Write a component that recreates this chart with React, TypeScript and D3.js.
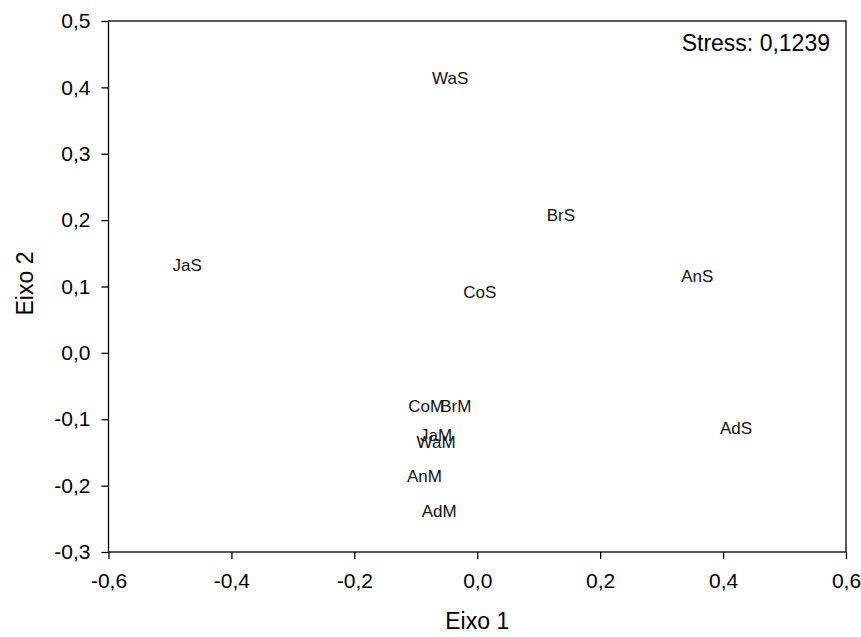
import React, { useEffect, useRef } from "react";
import * as d3 from "d3";

// NMDS site scores (Eixo 1, Eixo 2)
const labels = ["WaS", "BrS", "JaS", "AnS", "CoS", "AdS", "CoM", "BrM", "JaM", "WaM", "AnM", "AdM"];
const eixo1 = [-0.044, 0.136, -0.472, 0.358, 0.004, 0.421, -0.083, -0.035, -0.067, -0.067, -0.086, -0.062];
const eixo2 = [0.414, 0.208, 0.132, 0.116, 0.092, -0.113, -0.08, -0.08, -0.124, -0.134, -0.185, -0.238];
const xTicks = [-0.6, -0.4, -0.2, 0.0, 0.2, 0.4, 0.6];
const yTicks = [-0.3, -0.2, -0.1, 0.0, 0.1, 0.2, 0.3, 0.4, 0.5];
const stress = "Stress: 0,1239";

const W = 861;
const H = 637;
const margin = { top: 21, right: 15, bottom: 85, left: 108.5 };
const font = "Arial, 'Liberation Sans', sans-serif";

const fmt = (v: number) => d3.format(".1f")(v).replace(".", ",").replace("−", "-");

export default function App() {
  const ref = useRef<SVGSVGElement>(null);

  useEffect(() => {
    const svg = d3.select(ref.current);
    svg.selectAll("*").remove();

    const x = d3.scaleLinear().domain([-0.6, 0.6]).range([margin.left, W - margin.right]);
    const y = d3.scaleLinear().domain([-0.3, 0.5]).range([H - margin.bottom, margin.top]);

    // frame
    svg
      .append("rect")
      .attr("x", x(-0.6))
      .attr("y", y(0.5))
      .attr("width", x(0.6) - x(-0.6))
      .attr("height", y(-0.3) - y(0.5))
      .attr("fill", "none")
      .attr("stroke", "#000")
      .attr("stroke-width", 1.3);

    // x axis
    const gx = svg
      .append("g")
      .attr("transform", `translate(0,${y(-0.3)})`)
      .call(d3.axisBottom(x).tickValues(xTicks).tickFormat((d) => fmt(+d)).tickSize(7).tickPadding(14));
    gx.select(".domain").remove();
    gx.selectAll("line").attr("stroke", "#000").attr("stroke-width", 1.3);
    gx.selectAll("text").attr("font-family", font).attr("font-size", 21).attr("fill", "#000");

    // y axis
    const gy = svg
      .append("g")
      .attr("transform", `translate(${x(-0.6)},0)`)
      .call(d3.axisLeft(y).tickValues(yTicks).tickFormat((d) => fmt(+d)).tickSize(7).tickPadding(11));
    gy.select(".domain").remove();
    gy.selectAll("line").attr("stroke", "#000").attr("stroke-width", 1.3);
    gy.selectAll("text").attr("font-family", font).attr("font-size", 21).attr("fill", "#000");

    // axis titles
    svg
      .append("text")
      .attr("x", x(0))
      .attr("y", 629)
      .attr("text-anchor", "middle")
      .attr("font-family", font)
      .attr("font-size", 23)
      .text("Eixo 1");
    svg
      .append("text")
      .attr("transform", `translate(33,${y(0.1) - 3}) rotate(-90)`)
      .attr("text-anchor", "middle")
      .attr("font-family", font)
      .attr("font-size", 23)
      .text("Eixo 2");

    // point labels
    svg
      .append("g")
      .selectAll("text")
      .data(labels)
      .join("text")
      .attr("x", (_, i) => x(eixo1[i]))
      .attr("y", (_, i) => y(eixo2[i]))
      .attr("dy", "0.35em")
      .attr("text-anchor", "middle")
      .attr("font-family", font)
      .attr("font-size", 17)
      .attr("fill", "#111")
      .text((d) => d);

    // stress
    svg
      .append("text")
      .attr("x", x(0.6) - 16)
      .attr("y", 51)
      .attr("text-anchor", "end")
      .attr("font-family", font)
      .attr("font-size", 23)
      .text(stress);
  }, []);

  return (
    <svg
      ref={ref}
      width={W}
      height={H}
      style={{ position: "absolute", left: 0, top: 0, background: "#fff" }}
    />
  );
}
